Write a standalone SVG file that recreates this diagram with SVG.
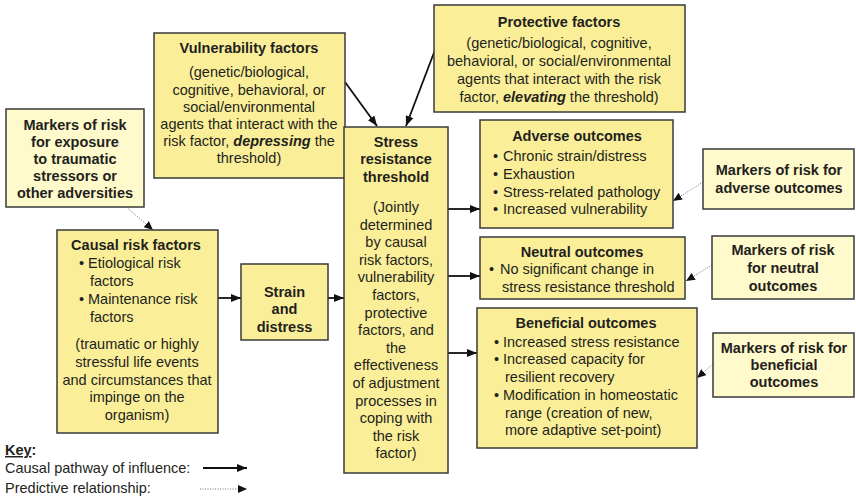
<svg xmlns="http://www.w3.org/2000/svg" width="856" height="497" viewBox="0 0 856 497">
<defs>
<style>
.box{fill:#FAEF98;stroke:#3a3a3a;stroke-width:1.5}
.mbox{fill:#FFFACB;stroke:#3a3a3a;stroke-width:1.5}
text{font-family:"Liberation Sans",Arial,sans-serif;font-size:14.5px;fill:#231f20}
.b{font-weight:bold}
.c{text-anchor:middle}
.bi{font-weight:bold;font-style:italic}
.solid{stroke:#111;stroke-width:1.8;fill:none;marker-end:url(#ah)}
.dot{stroke:#666;stroke-width:0.9;stroke-dasharray:1 1.5;fill:none;marker-end:url(#ahs)}
</style>
<marker id="ah" markerUnits="userSpaceOnUse" markerWidth="10" markerHeight="8" refX="10" refY="4" orient="auto"><path d="M0,0 L10,4 L0,8 z" fill="#111"/></marker>
<marker id="ahs" markerUnits="userSpaceOnUse" markerWidth="9" markerHeight="8" refX="9" refY="4" orient="auto"><path d="M0,0 L9,4 L0,8 z" fill="#111"/></marker>
</defs>
<rect width="856" height="497" fill="#fff"/>

<g id="connectors">
<line class="solid" x1="345" y1="82" x2="377" y2="126"/>
<line class="solid" x1="435" y1="50" x2="406" y2="126"/>
<line class="solid" x1="218" y1="298" x2="241" y2="298"/>
<line class="solid" x1="328" y1="298" x2="344" y2="298"/>
<line class="solid" x1="448" y1="209" x2="480" y2="209"/>
<line class="solid" x1="448" y1="276" x2="480" y2="276"/>
<line class="solid" x1="448" y1="353" x2="477" y2="353"/>
<line class="dot" x1="124" y1="205" x2="153" y2="230"/>
<line class="dot" x1="703" y1="182" x2="673" y2="201"/>
<line class="dot" x1="712" y1="265" x2="686" y2="281"/>
<line class="dot" x1="713" y1="364" x2="697" y2="378"/>
</g>

<g id="markers-exposure">
<rect class="mbox" x="6" y="109" width="138" height="98"/>
<text class="b c" x="75" y="130">Markers of risk</text>
<text class="b c" x="75" y="147">for exposure</text>
<text class="b c" x="75" y="164">to traumatic</text>
<text class="b c" x="75" y="181">stressors or</text>
<text class="b c" x="75" y="198">other adversities</text>
</g>

<g id="vulnerability">
<rect class="box" x="154" y="33" width="191" height="145"/>
<text class="b c" x="249" y="53">Vulnerability factors</text>
<text class="c" x="249" y="77">(genetic/biological,</text>
<text class="c" x="249" y="95">cognitive, behavioral, or</text>
<text class="c" x="249" y="112">social/environmental</text>
<text class="c" x="249" y="129">agents that interact with the</text>
<text class="c" x="249" y="146">risk factor, <tspan class="bi">depressing</tspan> the</text>
<text class="c" x="249" y="163">threshold)</text>
</g>

<g id="protective">
<rect class="box" x="434" y="5" width="251" height="107"/>
<text class="b c" x="559" y="27">Protective factors</text>
<text class="c" x="559" y="48">(genetic/biological, cognitive,</text>
<text class="c" x="559" y="66">behavioral, or social/environmental</text>
<text class="c" x="559" y="84">agents that interact with the risk</text>
<text class="c" x="559" y="102">factor, <tspan class="bi">elevating</tspan> the threshold)</text>
</g>

<g id="threshold">
<rect class="box" x="344" y="127" width="104" height="346"/>
<text class="b c" x="396" y="147">Stress</text>
<text class="b c" x="396" y="164">resistance</text>
<text class="b c" x="396" y="182">threshold</text>
<text class="c" x="396" y="212">(Jointly</text>
<text class="c" x="396" y="229.6">determined</text>
<text class="c" x="396" y="247.2">by causal</text>
<text class="c" x="396" y="264.8">risk factors,</text>
<text class="c" x="396" y="282.4">vulnerability</text>
<text class="c" x="396" y="300">factors,</text>
<text class="c" x="396" y="317.6">protective</text>
<text class="c" x="396" y="335.2">factors, and</text>
<text class="c" x="396" y="352.8">the</text>
<text class="c" x="396" y="370.4">effectiveness</text>
<text class="c" x="396" y="388">of adjustment</text>
<text class="c" x="396" y="405.6">processes in</text>
<text class="c" x="396" y="423.2">coping with</text>
<text class="c" x="396" y="440.8">the risk</text>
<text class="c" x="396" y="458.4">factor)</text>
</g>

<g id="causal">
<rect class="box" x="57" y="230" width="161" height="203"/>
<text class="b c" x="136" y="250">Causal risk factors</text>
<text x="79" y="268">•</text>
<text x="88" y="268">Etiological risk</text>
<text x="90" y="286">factors</text>
<text x="79" y="304">•</text>
<text x="88" y="304">Maintenance risk</text>
<text x="90" y="322">factors</text>
<text class="c" x="137" y="349">(traumatic or highly</text>
<text class="c" x="137" y="367">stressful life events</text>
<text class="c" x="137" y="384.5">and circumstances that</text>
<text class="c" x="137" y="402">impinge on the</text>
<text class="c" x="137" y="420">organism)</text>
</g>

<g id="strain">
<rect class="box" x="241" y="264" width="87" height="76"/>
<text class="b c" x="284.5" y="297">Strain</text>
<text class="b c" x="284.5" y="314">and</text>
<text class="b c" x="284.5" y="332">distress</text>
</g>

<g id="adverse">
<rect class="box" x="480" y="120" width="193" height="108"/>
<text class="b c" x="577" y="141">Adverse outcomes</text>
<text x="493" y="161">•</text><text x="503" y="161">Chronic strain/distress</text>
<text x="493" y="179">•</text><text x="503" y="179">Exhaustion</text>
<text x="493" y="197">•</text><text x="503" y="197">Stress-related pathology</text>
<text x="493" y="214">•</text><text x="503" y="214">Increased vulnerability</text>
</g>

<g id="neutral">
<rect class="box" x="480" y="237" width="205" height="62"/>
<text class="b c" x="582" y="257">Neutral outcomes</text>
<text x="489" y="274">•</text><text x="500" y="274">No significant change in</text>
<text x="502" y="292">stress resistance threshold</text>
</g>

<g id="beneficial">
<rect class="box" x="477" y="308" width="220" height="140"/>
<text class="b c" x="586" y="328">Beneficial outcomes</text>
<text x="494" y="347">•</text><text x="503" y="347">Increased stress resistance</text>
<text x="494" y="364">•</text><text x="503" y="364">Increased capacity for</text>
<text x="505" y="382">resilient recovery</text>
<text x="494" y="400">•</text><text x="503" y="400">Modification in homeostatic</text>
<text x="505" y="418">range (creation of new,</text>
<text x="505" y="435">more adaptive set-point)</text>
</g>

<g id="markers-adverse">
<rect class="mbox" x="703" y="149" width="151" height="60"/>
<text class="b c" x="779" y="175">Markers of risk for</text>
<text class="b c" x="779" y="193">adverse outcomes</text>
</g>

<g id="markers-neutral">
<rect class="mbox" x="712" y="236" width="142" height="63"/>
<text class="b c" x="783" y="255">Markers of risk</text>
<text class="b c" x="783" y="273">for neutral</text>
<text class="b c" x="783" y="291">outcomes</text>
</g>

<g id="markers-beneficial">
<rect class="mbox" x="713" y="333" width="141" height="64"/>
<text class="b c" x="784" y="353">Markers of risk for</text>
<text class="b c" x="784" y="370">beneficial</text>
<text class="b c" x="784" y="387">outcomes</text>
</g>

<g id="key">
<text class="b" x="5" y="455"><tspan text-decoration="underline">Key</tspan>:</text>
<text x="5" y="473">Causal pathway of influence:</text>
<line class="solid" x1="203" y1="468" x2="247" y2="468"/>
<text x="5" y="493">Predictive relationship:</text>
<line class="dot" x1="200" y1="489" x2="247" y2="489"/>
</g>
</svg>
